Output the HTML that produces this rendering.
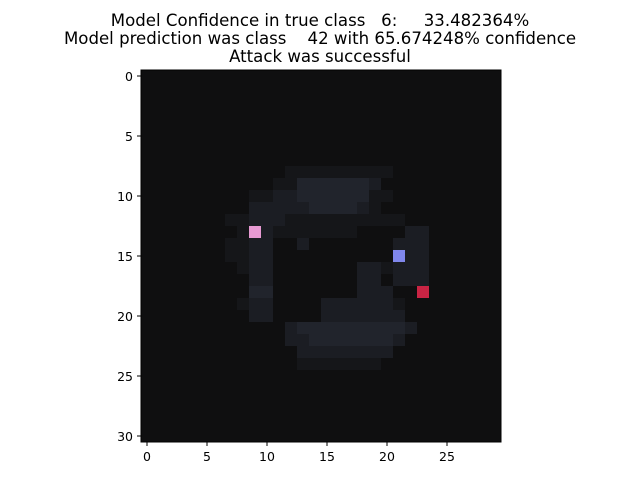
<!DOCTYPE html>
<html><head><meta charset="utf-8"><style>
body{margin:0;background:#fff;}
svg{display:block;font-family:"DejaVu Sans","Liberation Sans",sans-serif;}
text{white-space:pre;}
</style></head><body>
<svg id="chart" width="640" height="480" viewBox="0 0 640 480">
<text x="320" y="26" text-anchor="middle" font-size="16.6" xml:space="preserve">Model Confidence in true class   6:     33.482364%</text>
<text x="320" y="44" text-anchor="middle" font-size="16.6" xml:space="preserve">Model prediction was class    42 with 65.674248% confidence</text>
<text x="320" y="62" text-anchor="middle" font-size="16.6">Attack was successful</text>
<g id="cells"></g>
<rect x="141" y="70" width="360" height="372" fill="none" stroke="#000" stroke-width="1"/>
<g id="axes"></g>
</svg>
<script>
const rows = [
"000000000000000000000000000000",
"000000000000000000000000000000",
"000000000000000000000000000000",
"000000000000000000000000000000",
"000000000000000000000000000000",
"000000000000000000000000000000",
"000000000000000000000000000000",
"000000000000000000000000000000",
"000000000000111111111000000000",
"000000000001133333320000000000",
"000000000112233333311000000000",
"000000000222223333210000000000",
"000000011222111111111100000000",
"000000001P21111111000022000000",
"000000011220020000000222000000",
"000000011220000000000B22000000",
"000000001220000000221222000000",
"000000000220000000220222000000",
"00000000033000000022200R000000",
"000000001220000222222100000000",
"000000000220000222222200000000",
"000000000000233333333320000000",
"000000000000223333333200000000",
"000000000000022222222000000000",
"000000000000011111110000000000",
"000000000000000000000000000000",
"000000000000000000000000000000",
"000000000000000000000000000000",
"000000000000000000000000000000",
"000000000000000000000000000000",
"000000000000000000000000000000"];
const palette = {"0":"#0f0f10","1":"#151619","2":"#1b1d23","3":"#21242c","P":"#e89ad3","B":"#8087ec","R":"#c92444"};
const xTicks = [0,5,10,15,20,25];
const yTicks = [0,5,10,15,20,25,30];
const ns="http://www.w3.org/2000/svg";
const x0=141, y0=70, cw=12, ch=12;
const sx = c => x0 + (c+0.5)*cw;
const sy = r => y0 + (r+0.5)*ch;
const cells=document.getElementById('cells');
rows.forEach((row,r)=>{[...row].forEach((v,c)=>{
  const e=document.createElementNS(ns,'rect');
  
  
  e.setAttribute('x',sx(c)-cw/2);e.setAttribute('y',sy(r)-ch/2);
  e.setAttribute('width',cw+0.3);e.setAttribute('height',ch+0.3);
  e.setAttribute('fill',palette[v]);cells.appendChild(e);
});});
const axes=document.getElementById('axes');
xTicks.forEach(t=>{
  const l=document.createElementNS(ns,'line');
  
  
  l.setAttribute('x1',sx(t));l.setAttribute('x2',sx(t));l.setAttribute('y1',442);l.setAttribute('y2',446);l.setAttribute('stroke','#000');axes.appendChild(l);
  const tx=document.createElementNS(ns,'text');
  
  
  tx.setAttribute('x',sx(t));tx.setAttribute('y',461);tx.setAttribute('text-anchor','middle');tx.setAttribute('font-size','12.5');tx.textContent=t;axes.appendChild(tx);
});
yTicks.forEach(t=>{
  const l=document.createElementNS(ns,'line');
  
  
  l.setAttribute('x1',137);l.setAttribute('x2',141);l.setAttribute('y1',sy(t));l.setAttribute('y2',sy(t));l.setAttribute('stroke','#000');axes.appendChild(l);
  const tx=document.createElementNS(ns,'text');
  
  
  tx.setAttribute('x',133);tx.setAttribute('y',sy(t)+5);tx.setAttribute('text-anchor','end');tx.setAttribute('font-size','12.5');tx.textContent=t;axes.appendChild(tx);
});
</script>
</body></html>
